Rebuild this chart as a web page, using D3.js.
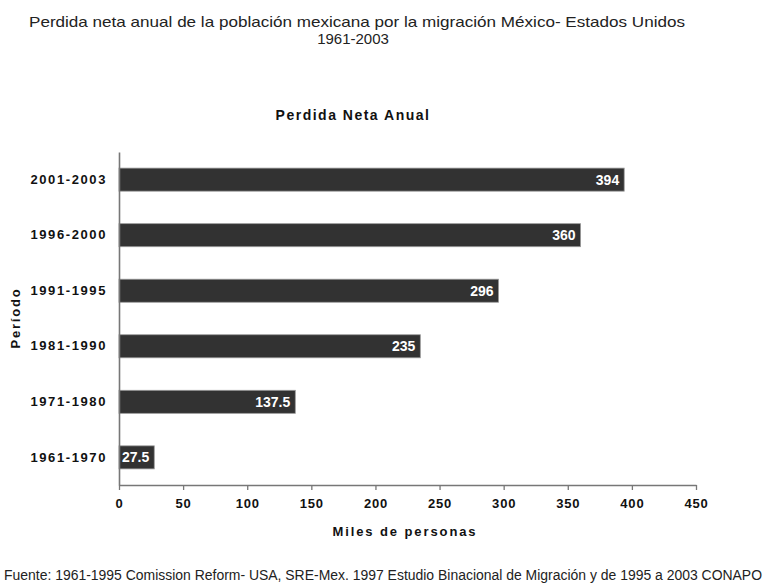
<!DOCTYPE html>
<html>
<head>
<meta charset="utf-8">
<script src="https://cdn.jsdelivr.net/npm/d3@7"></script>
<style>
  html, body { margin: 0; padding: 0; background: #fff; }
  svg { display: block; }
</style>
</head>
<body>
<div id="chart"></div>
<script>
// Periods, top to bottom, and annual net loss (thousands of people)
const periods = ["2001-2003", "1996-2000", "1991-1995", "1981-1990", "1971-1980", "1961-1970"];
const netLoss = [394, 360, 296, 235, 137.5, 27.5];
const xTicks = [0, 50, 100, 150, 200, 250, 300, 350, 400, 450];

const titleLines = [
  "Perdida neta anual de la población mexicana por la migración México- Estados Unidos",
  "1961-2003"
];
const chartTitle = "Perdida Neta Anual";
const xLabel = "Miles de personas";
const yLabel = "Período";
const sourceNote = "Fuente: 1961-1995 Comission Reform- USA, SRE-Mex. 1997 Estudio Binacional de Migración y de 1995 a 2003 CONAPO";

const W = 767, H = 587;
const plot = { left: 119, right: 696, top: 152, bottom: 485 };
const font = "'Liberation Sans', Arial, sans-serif";

const svg = d3.select("#chart").append("svg")
  .attr("width", W).attr("height", H);

const x = d3.scaleLinear().domain([0, 450]).range([plot.left, plot.right]);
const y = d3.scaleBand().domain(periods).range([plot.top, plot.bottom]).paddingInner(0.585).paddingOuter(0.29);

// Main heading (two centred lines)
svg.append("text")
  .attr("x", 357).attr("y", 27)
  .attr("text-anchor", "middle")
  .attr("font-family", font).attr("font-size", 15).attr("fill", "#222")
  .text(titleLines[0])
  .attr("textLength", 656).attr("lengthAdjust", "spacingAndGlyphs");
svg.append("text")
  .attr("x", 353).attr("y", 44)
  .attr("text-anchor", "middle")
  .attr("font-family", font).attr("font-size", 15).attr("fill", "#222")
  .text(titleLines[1]);

// Chart title
svg.append("text")
  .attr("x", 353).attr("y", 120)
  .attr("text-anchor", "middle")
  .attr("font-family", font).attr("font-weight", "bold")
  .attr("font-size", 14).attr("letter-spacing", 1.5).attr("fill", "#111")
  .text(chartTitle);

// Bars
const bars = svg.append("g");
bars.selectAll("rect").data(periods).join("rect")
  .attr("x", x(0))
  .attr("y", d => y(d))
  .attr("width", (d, i) => x(netLoss[i]) - x(0))
  .attr("height", y.bandwidth())
  .attr("fill", "#323232")
  .attr("stroke", "#9a9a9a").attr("stroke-width", 0.8);

// Value labels inside bar ends
bars.selectAll("text").data(periods).join("text")
  .attr("x", (d, i) => x(netLoss[i]) - 5)
  .attr("y", d => y(d) + y.bandwidth() / 2 + 5)
  .attr("text-anchor", "end")
  .attr("font-family", font).attr("font-weight", "bold")
  .attr("font-size", 14).attr("fill", "#fff")
  .text((d, i) => netLoss[i]);

// X axis
const xAxis = svg.append("g")
  .attr("transform", `translate(0,${plot.bottom})`)
  .call(d3.axisBottom(x).tickValues(xTicks).tickSize(5).tickPadding(9).tickSizeOuter(0));
xAxis.select(".domain").attr("stroke", "#777").attr("stroke-width", 1.6);
xAxis.selectAll(".tick line").attr("stroke", "#777").attr("stroke-width", 1.3);
xAxis.selectAll(".tick text")
  .attr("font-family", font).attr("font-weight", "bold")
  .attr("font-size", 13).attr("letter-spacing", 0.8).attr("fill", "#111");

// Y axis
const yAxis = svg.append("g")
  .attr("transform", `translate(${plot.left},0)`)
  .call(d3.axisLeft(y).tickSize(0).tickPadding(12).tickSizeOuter(0));
yAxis.select(".domain").attr("stroke", "#777").attr("stroke-width", 1.6);
yAxis.selectAll(".tick text")
  .attr("font-family", font).attr("font-weight", "bold")
  .attr("font-size", 13).attr("letter-spacing", 1.6).attr("fill", "#111");

// Axis titles
svg.append("text")
  .attr("x", 405).attr("y", 536)
  .attr("text-anchor", "middle")
  .attr("font-family", font).attr("font-weight", "bold")
  .attr("font-size", 13).attr("letter-spacing", 1.9).attr("fill", "#111")
  .text(xLabel);

svg.append("text")
  .attr("transform", "translate(20,318) rotate(-90)")
  .attr("text-anchor", "middle")
  .attr("font-family", font).attr("font-weight", "bold")
  .attr("font-size", 13).attr("letter-spacing", 1.8).attr("fill", "#111")
  .text(yLabel);

// Source note
svg.append("text")
  .attr("x", 383).attr("y", 580)
  .attr("text-anchor", "middle")
  .attr("font-family", font).attr("font-size", 14).attr("fill", "#222")
  .text(sourceNote)
  .attr("textLength", 758).attr("lengthAdjust", "spacingAndGlyphs");
</script>
</body>
</html>
